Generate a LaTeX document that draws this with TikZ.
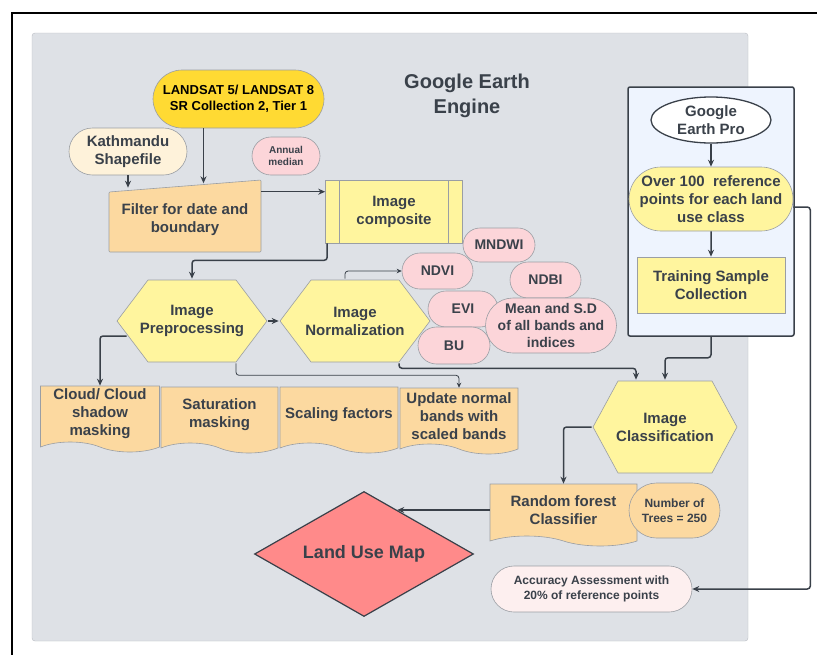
\documentclass[tikz,border=0pt]{standalone}
\usepackage{fontspec}
\setmainfont{Liberation Sans}
\usetikzlibrary{arrows.meta,shapes.geometric,shapes.misc,shapes.symbols}
\definecolor{panelgray}{HTML}{DEE1E6}
\definecolor{paneledge}{HTML}{B9BDC3}
\definecolor{txt}{HTML}{3A414A}
\definecolor{linec}{HTML}{394049}
\definecolor{edge}{HTML}{9A9EA4}
\definecolor{yellowfill}{HTML}{FFF59E}
\definecolor{goldfill}{HTML}{FFDA33}
\definecolor{orangefill}{HTML}{FCD9A0}
\definecolor{pinkfill}{HTML}{FCD5D9}
\definecolor{creamfill}{HTML}{FEF2DA}
\definecolor{redfill}{HTML}{FF8A8A}
\definecolor{bluefill}{HTML}{EEF4FE}
\definecolor{lightpink}{HTML}{FDEFEF}
\tikzset{
  base/.style={font=\fontsize{15}{18}\selectfont\bfseries, text=txt, align=center, draw=edge, line width=0.6pt, inner sep=1pt},
  stadium/.style={base, rounded rectangle},
  hexa/.style={base, draw=none, path picture={
      \filldraw[fill=yellowfill, draw=edge, line width=0.6pt]
        ([xshift=1pt]path picture bounding box.west)
        -- ([xshift=#1,yshift=-1pt]path picture bounding box.north west)
        -- ([xshift=-#1,yshift=-1pt]path picture bounding box.north east)
        -- ([xshift=-1pt]path picture bounding box.east)
        -- ([xshift=-#1,yshift=1pt]path picture bounding box.south east)
        -- ([xshift=#1,yshift=1pt]path picture bounding box.south west) -- cycle;}},
  doc/.style={base, tape, tape bend top=none, tape bend bottom=out and in, tape bend height=10pt, fill=orangefill, minimum width=119pt, minimum height=66pt},
  pinkbox/.style={stadium, fill=pinkfill, font=\fontsize{14}{17}\selectfont\bfseries},
  predef/.style={base, fill=yellowfill, path picture={
      \draw[edge, line width=0.6pt] ([xshift=14pt]path picture bounding box.north west) -- ([xshift=14pt]path picture bounding box.south west);
      \draw[edge, line width=0.6pt] ([xshift=-14pt]path picture bounding box.north east) -- ([xshift=-14pt]path picture bounding box.south east);}},
  arr/.style={draw=linec, line width=1.5pt, rounded corners=3pt, -{Stealth[length=7pt,width=6pt]}},
  thinarr/.style={arr, line width=0.8pt, -{Stealth[length=5pt,width=4.5pt]}},
}
\begin{document}
\begin{tikzpicture}[x=1pt, y=-1pt]
\useasboundingbox (0,0) rectangle (817,654);
\fill[white] (0,0) rectangle (817,654);
\draw[line width=2pt] (12,13) rectangle (850,700);
\draw[fill=panelgray, draw=paneledge, rounded corners=3pt] (32,33) rectangle (748,641);
\node[base, draw=none, font=\fontsize{20}{25}\selectfont\bfseries] (geetitle) at (467,96) {Google Earth\\Engine};

\node[stadium, fill=goldfill, text=black, font=\fontsize{13}{16}\selectfont\bfseries, minimum width=173pt, minimum height=58pt] (landsat) at (238.5,99) {LANDSAT 5/ LANDSAT 8\\SR Collection 2, Tier 1};
\node[stadium, fill=creamfill, minimum width=120pt, minimum height=47pt] (shapefile) at (128,151.5) {Kathmandu\\Shapefile};
\node[pinkbox, font=\fontsize{10}{12}\selectfont\bfseries, minimum width=70pt, minimum height=38pt] (annmedian) at (286,156) {Annual\\median};
\draw[fill=orangefill, draw=edge, line width=0.6pt, rounded corners=1pt] (109,192) -- (261,180) -- (261,252) -- (109,252) -- cycle;
\node[base, draw=none, minimum width=152pt, minimum height=64pt] (filter) at (185,220) {Filter for date and\\boundary};
\node[predef, minimum width=137pt, minimum height=63pt] (composite) at (394,211.5) {Image\\composite};

\node[hexa=32pt, minimum width=152pt, minimum height=84pt] (preproc) at (192,321) {Image\\Preprocessing};
\node[hexa=32pt, minimum width=152pt, minimum height=84pt] (normal) at (355,321) {Image\\Normalization};

\node[pinkbox, minimum width=74pt, minimum height=34pt] (mndwi) at (499,245) {MNDWI};
\node[pinkbox, minimum width=73pt, minimum height=36pt] (ndvi) at (437.5,271) {NDVI};
\node[pinkbox, minimum width=73pt, minimum height=36pt] (ndbi) at (545.5,280) {NDBI};
\node[pinkbox, minimum width=72pt, minimum height=36pt] (evi) at (463,309) {EVI};
\node[pinkbox, minimum width=74pt, minimum height=37pt] (bu) at (454,345.5) {BU};
\node[pinkbox, minimum width=120pt, minimum height=55pt] (meansd) at (551,325.5) {Mean and S.D\\of all bands and\\indices};

\node[doc] (cloudmask) at (100,414) {Cloud/ Cloud\\shadow\\masking};
\node[doc, minimum width=117pt] (satmask) at (219.5,415) {Saturation\\masking};
\node[doc, minimum width=118pt] (scaling) at (339,415) {Scaling factors};
\node[doc, minimum width=118pt] (update) at (459,416) {Update normal\\bands with\\scaled bands};

\node[base, fill=bluefill, draw=linec, line width=1.5pt, rounded corners=2pt, minimum width=166pt, minimum height=249pt] (gepbox) at (711,211.5) {};
\node[base, ellipse, fill=white, draw=linec, line width=1.3pt, minimum width=120pt, minimum height=46pt] (gep) at (711,120) {Google\\Earth Pro};
\node[stadium, fill=yellowfill, minimum width=166pt, minimum height=64pt] (refpoints) at (711,199) {Over 100~ reference\\points for each land\\use class};
\node[base, fill=yellowfill, minimum width=148pt, minimum height=56pt] (training) at (711,285) {Training Sample\\Collection};

\node[hexa=26pt, minimum width=146pt, minimum height=94pt] (classif) at (665,427) {Image\\Classification};
\node[doc, minimum width=147pt, minimum height=62pt] (rforest) at (563.5,510) {Random forest\\Classifier};
\node[stadium, fill=orangefill, font=\fontsize{12}{15}\selectfont\bfseries, minimum width=93pt, minimum height=55pt] (ntrees) at (674.5,510.5) {Number of\\Trees = 250};
\node[base, diamond, fill=redfill, draw=linec, line width=1.2pt, aspect=1.75, minimum width=219pt, minimum height=125pt, font=\fontsize{18}{22}\selectfont\bfseries] (landuse) at (364,554) {Land Use Map};
\node[stadium, fill=lightpink, font=\fontsize{12}{15}\selectfont\bfseries, minimum width=203pt, minimum height=46pt] (accuracy) at (591.5,589) {Accuracy Assessment with\\20\% of reference points};

\draw[arr, line width=1.2pt] ([xshift=-35pt]landsat.south) -- ++(0,55);
\draw[arr, line width=1.2pt] (shapefile.south) -- (shapefile.south |- filter.north);
\draw[arr] ([yshift=-4pt]filter.north east) -- ([yshift=-4pt]filter.north east -| composite.west);
\draw[arr] ([xshift=2pt]composite.south west) -- ++(0,17) -| (preproc.north);
\draw[arr] (preproc.east) -- (normal.west);
\draw[thinarr] ([xshift=-10pt]normal.north) |- (ndvi.west);
\draw[arr] ([xshift=11pt,yshift=-15pt]preproc.west) -| (cloudmask.north);
\draw[thinarr] ([xshift=44pt]preproc.south) -- ++(0,12) -| (update.north);
\draw[arr] ([xshift=44pt]normal.south) -- ++(0,5) -| ([xshift=-29pt]classif.north);
\draw[arr] (gep) -- (refpoints);
\draw[arr] (refpoints) -- (training);
\draw[arr] (gepbox.south) -- ++(0,21) -| (classif.north);
\draw[arr] ([yshift=-8pt]refpoints.east) -- ++(17,0) |- (accuracy.east);
\draw[arr] (classif.west) -| (rforest.north);
\draw[arr] (rforest.west) -- (rforest.west -| landuse.53);
\end{tikzpicture}
\end{document}
